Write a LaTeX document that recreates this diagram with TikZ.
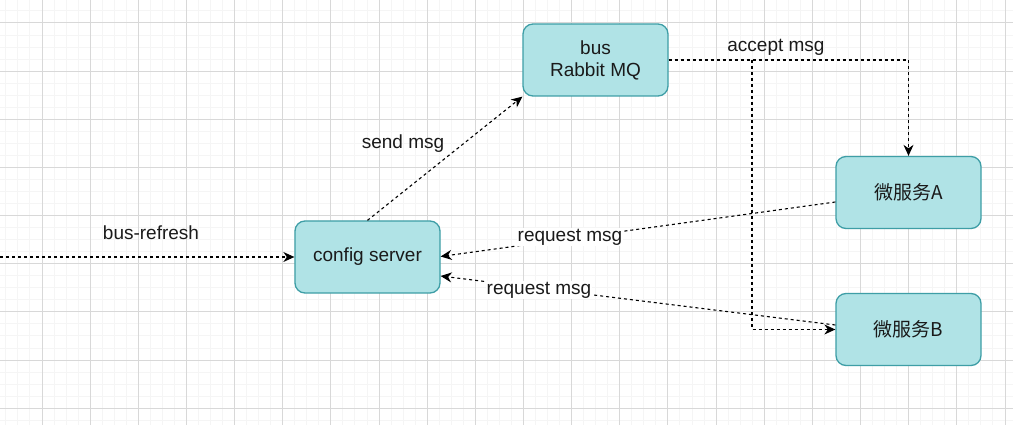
\documentclass[tikz,border=0pt]{standalone}
\usepackage{fontspec}
\setmainfont{Liberation Sans}
\newfontfamily\cjk{Noto Sans CJK SC}
\usetikzlibrary{arrows.meta}
\definecolor{boxfill}{HTML}{B0E3E6}
\definecolor{boxline}{HTML}{3E9EA6}
\definecolor{txt}{HTML}{1A1A1A}
\definecolor{gridminor}{HTML}{F5F5F5}
\definecolor{gridmajor}{HTML}{D8D8D8}
\tikzset{
  box/.style={draw=boxline, fill=boxfill, line width=1.3pt, rounded corners=10pt,
    minimum width=145pt, minimum height=72pt, inner sep=0pt, align=center,
    text=txt, font=\fontsize{19}{22}\selectfont},
  conn/.style={line width=1.1pt, dash pattern=on 3pt off 3pt, draw=black,
    -{Stealth[length=11pt,width=10pt,inset=3.5pt]}},
  lbl/.style={text=txt, font=\fontsize{19}{22}\selectfont, inner sep=1pt},
  lblbg/.style={lbl, fill=white}
}
\begin{document}
\begin{tikzpicture}[x=1pt,y=-1pt]
\useasboundingbox (0,0) rectangle (1013,425);
\fill[white] (0,0) rectangle (1013,425);
% grid
\foreach \i in {-3,...,84} {
  \draw[gridminor, line width=1pt] ({42+12.0375*\i},0) -- ({42+12.0375*\i},425);
}
\foreach \i in {-2,...,36} {
  \draw[gridminor, line width=1pt] (0,{23+12.0375*\i}) -- (1013,{23+12.0375*\i});
}
\foreach \i in {-1,...,21} {
  \draw[gridmajor, line width=1pt] ({42+48.15*\i},0) -- ({42+48.15*\i},425);
}
\foreach \i in {-1,...,9} {
  \draw[gridmajor, line width=1pt] (0,{23+48.15*\i}) -- (1013,{23+48.15*\i});
}
% nodes
\node[box] (bus) at (595.5,60) {bus\\Rabbit MQ};
\node[box] (cfg) at (367.5,257) {config server};
\node[box] (A) at (908.5,192.5) {\cjk 微服务A};
\node[box] (B) at (908.5,329.5) {\cjk 微服务B};
\coordinate (L) at (0,257);
\coordinate (J) at (752,60);
% connectors
\draw[conn] (L) -- (cfg.west);
\node[lbl] (lrefresh) at (151,233) {bus-refresh};
\draw[conn] (cfg.north) -- (bus.south west);
\node[lbl] (lsend) at (403,144) {send msg};
\draw[conn] (bus.east) -| (A.north);
\node[lbl] (laccept) at (776,47) {accept msg};
\draw[conn] (J) |- (B.west);
\draw[conn] ([yshift=-9.5pt]A.west) -- ([yshift=0.5pt]cfg.east);
\node[lblbg] (lreqA) at (570,237) {request msg};
\draw[conn] ([yshift=4.5pt]B.west) -- ([yshift=-19pt]cfg.east);
\node[lblbg] (lreqB) at (539,290) {request msg};
\end{tikzpicture}
\end{document}
